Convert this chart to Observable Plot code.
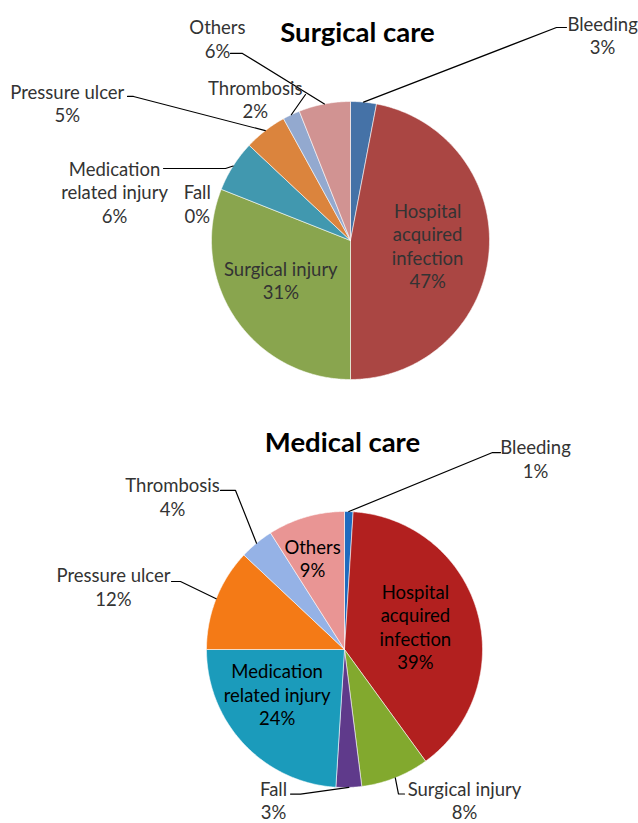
<!DOCTYPE html>
<html>
<head>
<meta charset="utf-8">
<script src="https://cdn.jsdelivr.net/npm/d3@7"></script>
<script src="https://cdn.jsdelivr.net/npm/@observablehq/plot@0.6"></script>
<style>
  body { margin: 0; background: #fff; }
  svg { display: block; }
</style>
</head>
<body>
<div id="chart"></div>
<script>
// ---------- data ----------
const categories = ["Bleeding", "Hospital acquired infection", "Surgical injury", "Fall",
  "Medication related injury", "Pressure ulcer", "Thrombosis", "Others"];
const labelLines = ["Bleeding", "Hospital\nacquired\ninfection", "Surgical injury", "Fall",
  "Medication\nrelated injury", "Pressure ulcer", "Thrombosis", "Others"];
const surgicalValues = [3, 47, 31, 0, 6, 5, 2, 6];
const medicalValues = [1, 39, 8, 3, 24, 12, 4, 9];
const surgicalColors = ["#4572A7", "#AA4643", "#89A54E", "#80699B", "#4198AF", "#DB843D", "#93A9CF", "#D19392"];
const medicalColors = ["#1F6BBF", "#B2201F", "#82A92E", "#5F3A8B", "#1B9BBB", "#F47A16", "#95B2E6", "#E99594"];
const titles = ["Surgical care", "Medical care"];

// ---------- layout ----------
const surgicalLayout = {
  cx: 350, cy: 240, r: 139, title: {dx: 7, dy: -207},
  textColor: "#333", insideColor: "#333",
  labels: [
    {f: 1, dx: 239, dy: -67, leader: [[192.9, -74.6], [202.9, -74.6]]},
    {f: 0.55, dx: 1, dy: -2, inside: true},
    {f: 0.58, dx: -3, dy: -6, inside: true},
    {f: 1, dx: -24, dy: 14},
    {f: 1, dx: -118.6, dy: 25.8, leader: [[-7.6, 2.5], [-69.6, 2.5]]},
    {f: 1, dx: -198, dy: -27.6, leader: [[-131.8, -34.2], [-137.8, -34.2]]},
    {f: 1, dx: -36, dy: -15.6, leader: [[14.2, -20.2]]},
    {f: 1, dx: -107, dy: -65.5, leader: [[-82, -50.5], [-94, -50.5]]}
  ]
};
const medicalLayout = {
  cx: 344, cy: 649, r: 138, title: {dx: -2, dy: -206},
  textColor: "#333", insideColor: "#000",
  labels: [
    {f: 1, dx: 186.7, dy: -53, leader: [[143.7, -59], [151.7, -59]]},
    {f: 0.55, dx: -2, dy: -2, inside: true},
    {f: 1, dx: 69.2, dy: 22, leader: [[3.2, 16.2], [9.2, 16.2]]},
    {f: 1, dx: -75.3, dy: 12.4, leader: [[-48.3, 6.6], [-58.3, 6.6]]},
    {f: 0.58, dx: -9, dy: -10, inside: true},
    {f: 1, dx: -102.7, dy: -12.2, leader: [[-35.7, -17.2], [-44.7, -17.2]]},
    {f: 1, dx: -84, dy: -46.7, leader: [[-21, -52.7], [-36, -52.7]]},
    {f: 0.7, dx: -5, dy: 1, inside: true}
  ]
};

const FONT = 18.5, LH = 1.27;

function pieMarks(values, colors, L, title, id) {
  const arcs = d3.pie().sort(null).value(d => d)(values);
  const marks = [];
  arcs.forEach((a, i) => {
    const span = a.endAngle - a.startAngle;
    if (span <= 0) return;
    const n = Math.max(2, Math.ceil(span / (Math.PI / 360)));
    const poly = [{x: L.cx, y: L.cy}];
    for (let k = 0; k <= n; k++) {
      const t = a.startAngle + span * k / n;
      poly.push({x: L.cx + L.r * Math.sin(t), y: L.cy - L.r * Math.cos(t)});
    }
    poly.push({x: L.cx, y: L.cy});
    marks.push(Plot.line(poly, {x: "x", y: "y", fill: colors[i], stroke: "white",
      strokeWidth: 0.8, strokeOpacity: 0.7, strokeLinejoin: "round"}));
  });
  const inside = [], outside = [], leaders = [];
  arcs.forEach((a, i) => {
    const m = (a.startAngle + a.endAngle) / 2;
    const c = L.labels[i];
    const ax = L.cx + L.r * Math.sin(m), ay = L.cy - L.r * Math.cos(m);
    const lx = L.cx + c.f * L.r * Math.sin(m) + c.dx;
    const ly = L.cy - c.f * L.r * Math.cos(m) + c.dy;
    const d = {x: lx, y: ly, text: `${labelLines[i]}\n${values[i]}%`};
    (c.inside ? inside : outside).push(d);
    if (c.leader) {
      leaders.push({x: ax, y: ay, z: id + i});
      c.leader.forEach(([ox, oy]) => leaders.push({x: ax + ox, y: ay + oy, z: id + i}));
    }
  });
  marks.push(Plot.line(leaders, {x: "x", y: "y", z: "z", stroke: "#000", strokeWidth: 1.2}));
  marks.push(Plot.text(outside, {x: "x", y: "y", text: "text", fill: L.textColor,
    fontSize: FONT, lineHeight: LH, lineAnchor: "middle", textAnchor: "middle"}));
  marks.push(Plot.text(inside, {x: "x", y: "y", text: "text", fill: L.insideColor,
    fontSize: FONT, lineHeight: LH, lineAnchor: "middle", textAnchor: "middle"}));
  marks.push(Plot.text([title], {x: () => L.cx + L.title.dx, y: () => L.cy + L.title.dy,
    text: d => d, fontSize: 27.5, fontWeight: "bold", fill: "#000"}));
  return marks;
}

const chart = Plot.plot({
  width: 638,
  height: 823,
  margin: 0,
  x: {domain: [0, 638], range: [0, 638], axis: null},
  y: {domain: [0, 823], range: [0, 823], axis: null},
  style: {background: "white", fontFamily: "Lato, 'Open Sans', sans-serif"},
  marks: [
    ...pieMarks(surgicalValues, surgicalColors, surgicalLayout, titles[0], "s"),
    ...pieMarks(medicalValues, medicalColors, medicalLayout, titles[1], "m")
  ]
});
document.getElementById("chart").appendChild(chart);
</script>
</body>
</html>
